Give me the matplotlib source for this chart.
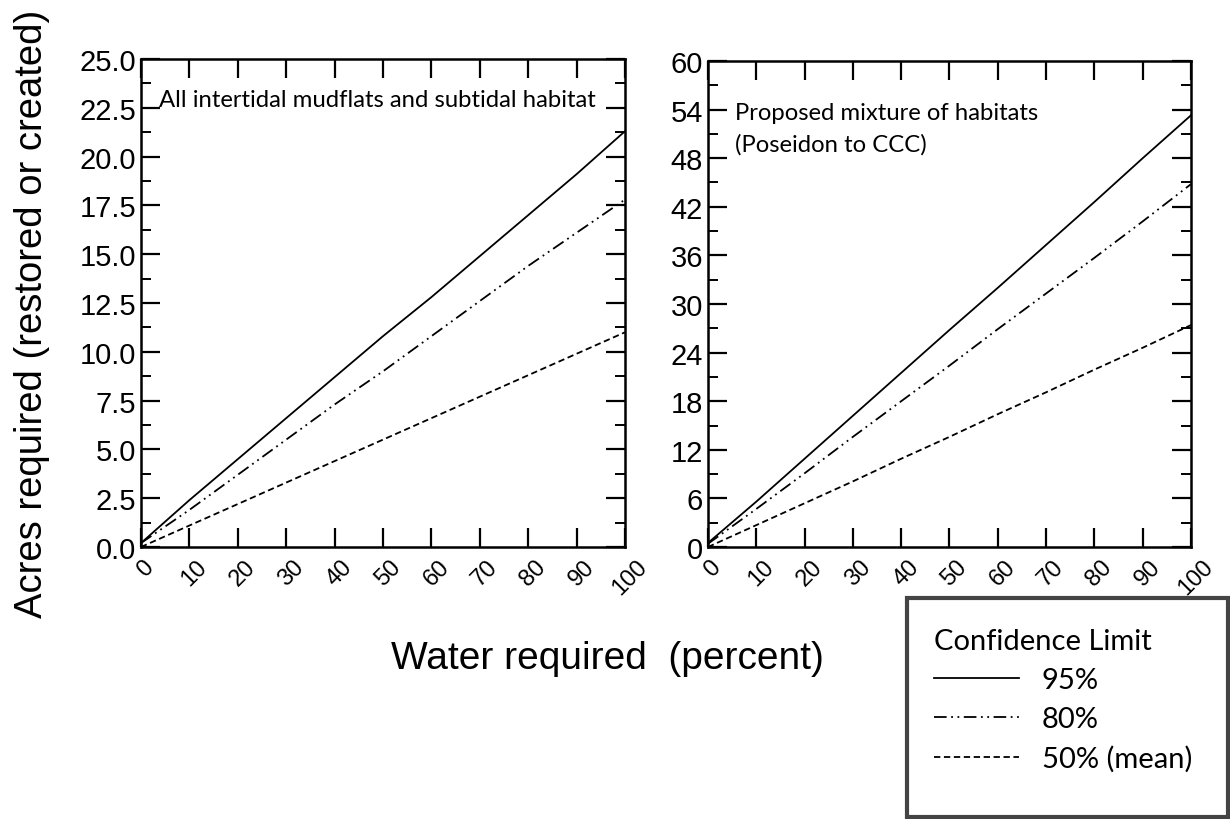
import numpy as np
import matplotlib
matplotlib.use("Agg")
import matplotlib.pyplot as plt
import matplotlib.transforms as mtransforms
from matplotlib.ticker import MultipleLocator
from matplotlib.patches import Rectangle

# water required (percent)
water = [0, 10, 20, 30, 40, 50, 60, 70, 80, 90, 100]

# left panel: all intertidal mudflats and subtidal habitat (acres)
left_95 = [0.2, 2.4, 4.5, 6.6, 8.7, 10.8, 12.8, 14.9, 17.0, 19.1, 21.3]
left_80 = [0.2, 1.9, 3.7, 5.5, 7.3, 9.0, 10.8, 12.6, 14.4, 16.1, 17.8]
left_50 = [0.0, 1.1, 2.2, 3.3, 4.4, 5.5, 6.6, 7.7, 8.8, 9.9, 11.0]

# right panel: proposed mixture of habitats (acres)
right_95 = [0.5, 5.6, 10.9, 16.2, 21.5, 26.8, 32.0, 37.3, 42.6, 48.0, 53.3]
right_80 = [0.4, 4.7, 9.1, 13.6, 18.0, 22.4, 26.9, 31.3, 35.7, 40.2, 44.8]
right_50 = [0.0, 2.7, 5.4, 8.1, 10.9, 13.6, 16.4, 19.1, 21.9, 24.6, 27.4]

labels = ['95%', '80%', '50% (mean)']
styles = ['-', (0, (7, 2.5, 1, 2.5, 1, 2.5)), (0, (3.5, 2))]

plt.rcParams['font.family'] = ['Liberation Sans', 'DejaVu Sans']

fig = plt.figure(figsize=(12.3, 8.2), dpi=100)
ax1 = fig.add_axes([0.1146, 0.3317, 0.3935, 0.5951])
ax2 = fig.add_axes([0.5756, 0.3317, 0.3927, 0.5927])


def setup(ax, ymax, major, fmt):
	ax.set_xlim(0, 100)
	ax.set_ylim(0, ymax)
	ax.yaxis.set_major_locator(MultipleLocator(major))
	ax.yaxis.set_minor_locator(MultipleLocator(major / 2))
	ax.tick_params(which='major', direction='in', length=14, width=1.6,
				   top=True, right=True, labelsize=21)
	ax.tick_params(which='minor', direction='in', length=7, width=1.4,
				   top=False, right=True)
	ax.tick_params(axis='x', which='major', labelsize=17, pad=6)
	ax.set_xticks(water)
	ax.set_xticklabels([str(w) for w in water], rotation=45, ha='center', va='top')
	shift = mtransforms.ScaledTranslation(5 / 100, 0, fig.dpi_scale_trans)
	for lab in ax.get_xticklabels():
		lab.set_transform(lab.get_transform() + shift)
	ax.set_yticklabels([fmt.format(v) for v in ax.get_yticks()])
	for s in ax.spines.values():
		s.set_linewidth(1.8)


lines = []
for ys, st in zip([left_95, left_80, left_50], styles):
	ln, = ax1.plot(water, ys, color='black', linestyle=st, linewidth=1.3)
	lines.append(ln)
for ys, st in zip([right_95, right_80, right_50], styles):
	ax2.plot(water, ys, color='black', linestyle=st, linewidth=1.3)

setup(ax1, 25, 2.5, '{:.1f}')
setup(ax2, 60, 6, '{:.0f}')

ax1.text(0.037, 0.918, 'All intertidal mudflats and subtidal habitat',
		 transform=ax1.transAxes, fontsize=17.2, family='Lato', va='center', ha='left')
ax2.text(0.056, 0.862, 'Proposed mixture of habitats\n(Poseidon to CCC)',
		 transform=ax2.transAxes, fontsize=17.2, family='Lato', va='center', ha='left',
		 linespacing=1.6)

fig.text(0.026, 0.617, 'Acres required (restored or created)', rotation=90,
		 fontsize=27.5, ha='center', va='center')
fig.text(0.494, 0.196, 'Water required  (percent)', fontsize=28,
		 ha='center', va='center')

# legend box
fig.patches.append(Rectangle((0.7374, 0.0024), 0.261, 0.267, transform=fig.transFigure,
							 fill=False, edgecolor='#444444', linewidth=3))
leg = fig.legend(lines, labels, title='Confidence Limit', loc='upper left',
				 bbox_to_anchor=(0.738, 0.265), frameon=False, handlelength=2.9,
				 handletextpad=0.8, labelspacing=0.45, alignment='left',
				 prop={'family': 'Lato', 'size': 21}, title_fontproperties={'family': 'Lato', 'size': 21})

fig.savefig('out.png', dpi=100)
